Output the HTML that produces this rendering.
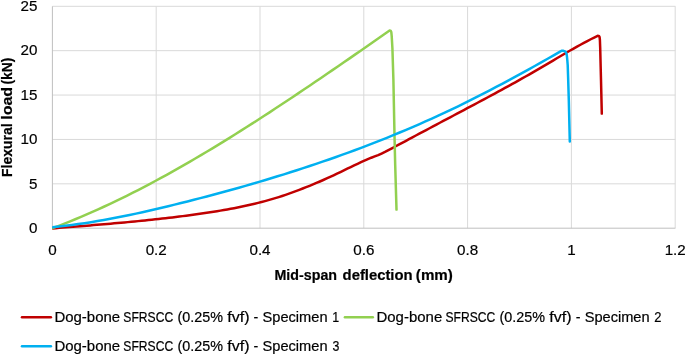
<!DOCTYPE html>
<html><head><meta charset="utf-8"><style>
html,body{margin:0;padding:0;background:#fff;}
body{width:685px;height:354px;overflow:hidden;}
svg{display:block;}
text{font-family:"Liberation Sans",sans-serif;fill:#000;stroke:#000;stroke-width:0.2px;}
.tx{filter:grayscale(1);}
</style></head><body>
<svg width="685" height="354" viewBox="0 0 685 354">
<rect width="685" height="354" fill="#fff"/>
<g stroke="#d9d9d9" stroke-width="1" fill="none">
<line x1="52.4" x2="675.4" y1="183.82" y2="183.82"/><line x1="52.4" x2="675.4" y1="139.44" y2="139.44"/><line x1="52.4" x2="675.4" y1="95.06" y2="95.06"/><line x1="52.4" x2="675.4" y1="50.68" y2="50.68"/><line x1="52.4" x2="675.4" y1="6.30" y2="6.30"/><line x1="156.20" x2="156.20" y1="6.30" y2="228.2"/><line x1="260.00" x2="260.00" y1="6.30" y2="228.2"/><line x1="363.80" x2="363.80" y1="6.30" y2="228.2"/><line x1="467.60" x2="467.60" y1="6.30" y2="228.2"/><line x1="571.40" x2="571.40" y1="6.30" y2="228.2"/><line x1="675.20" x2="675.20" y1="6.30" y2="228.2"/>
</g>
<g stroke="#bfbfbf" stroke-width="1" fill="none">
<line x1="52.4" x2="52.4" y1="6.30" y2="228.2"/>
<line x1="52.4" x2="675.4" y1="228.2" y2="228.2"/>
</g>
<defs><clipPath id="pc"><rect x="52.2" y="0" width="640" height="354"/></clipPath></defs>
<g fill="none" stroke-width="2.5" stroke-linejoin="round" stroke-linecap="round" clip-path="url(#pc)">
<path d="M52.40,228.40 L55.83,228.13 L59.26,227.86 L62.69,227.59 L66.12,227.32 L69.54,227.05 L72.97,226.78 L76.40,226.51 L79.83,226.24 L83.26,225.96 L86.69,225.68 L90.12,225.40 L93.55,225.12 L96.98,224.84 L100.41,224.55 L103.83,224.26 L107.26,223.97 L110.69,223.67 L114.12,223.37 L117.55,223.06 L120.98,222.75 L124.41,222.44 L127.84,222.12 L131.27,221.79 L134.69,221.46 L138.12,221.12 L141.55,220.78 L144.98,220.43 L148.41,220.08 L151.84,219.72 L155.27,219.35 L158.70,218.97 L162.13,218.59 L165.55,218.20 L168.98,217.80 L172.41,217.39 L175.84,216.97 L179.27,216.55 L182.70,216.12 L186.13,215.67 L189.56,215.22 L192.99,214.76 L196.42,214.29 L199.84,213.80 L203.27,213.31 L206.70,212.80 L210.13,212.29 L213.56,211.75 L216.99,211.20 L220.42,210.64 L223.85,210.05 L227.28,209.45 L230.70,208.82 L234.13,208.18 L237.56,207.50 L240.99,206.81 L244.42,206.08 L247.85,205.33 L251.28,204.55 L254.71,203.74 L258.14,202.89 L261.56,202.02 L264.99,201.10 L268.42,200.16 L271.85,199.17 L275.28,198.15 L278.71,197.08 L282.14,195.98 L285.57,194.83 L289.00,193.65 L292.43,192.42 L295.85,191.16 L299.28,189.87 L302.71,188.54 L306.14,187.19 L309.57,185.80 L313.00,184.38 L316.43,182.94 L319.86,181.48 L323.29,179.99 L326.71,178.48 L330.14,176.95 L333.57,175.34 L337.00,173.70 L340.43,172.06 L343.86,170.40 L347.29,168.73 L350.72,167.05 L354.15,165.36 L357.57,163.78 L361.00,162.22 L364.43,160.67 L367.86,159.19 L371.29,157.71 L374.72,156.41 L378.15,155.10 L381.58,153.53 L385.01,151.87 L388.44,150.10 L391.86,148.30 L395.29,146.48 L398.72,144.64 L402.15,142.83 L405.58,141.02 L409.01,139.19 L412.44,137.34 L415.87,135.50 L419.30,133.70 L422.72,131.89 L426.15,130.07 L429.58,128.25 L433.01,126.42 L436.44,124.59 L439.87,122.76 L443.30,120.94 L446.73,119.12 L450.16,117.30 L453.58,115.48 L457.01,113.67 L460.44,111.85 L463.87,110.03 L467.30,108.22 L470.73,106.40 L474.16,104.58 L477.59,102.75 L481.02,100.92 L484.45,99.09 L487.87,97.25 L491.30,95.41 L494.73,93.56 L498.16,91.70 L501.59,89.84 L505.02,87.97 L508.45,86.08 L511.88,84.19 L515.31,82.29 L518.73,80.38 L522.16,78.45 L525.59,76.52 L529.02,74.57 L532.45,72.61 L535.88,70.63 L539.31,68.64 L542.74,66.63 L546.17,64.61 L549.59,62.58 L553.02,60.55 L556.45,58.52 L559.88,56.50 L563.31,54.48 L566.74,52.49 L570.17,50.50 L573.60,48.55 L577.03,46.62 L580.46,44.72 L583.88,42.86 L587.31,41.03 L590.74,39.26 L594.17,37.53 L597.60,35.86 L598.90,35.90 L599.60,37.20 L599.90,40.00 L600.20,48.00 L601.00,80.00 L601.80,113.60" stroke="#c00000"/>
<path d="M52.40,228.20 L58.12,226.05 L63.83,223.84 L69.55,221.57 L75.26,219.24 L80.98,216.86 L86.69,214.41 L92.41,211.91 L98.12,209.36 L103.84,206.75 L109.55,204.09 L115.27,201.38 L120.98,198.61 L126.70,195.80 L132.41,192.94 L138.13,190.03 L143.84,187.07 L149.56,184.07 L155.27,181.02 L160.99,177.93 L166.71,174.80 L172.42,171.62 L178.14,168.41 L183.85,165.15 L189.57,161.86 L195.28,158.53 L201.00,155.16 L206.71,151.76 L212.43,148.33 L218.14,144.86 L223.86,141.36 L229.57,137.83 L235.29,134.27 L241.00,130.68 L246.72,127.06 L252.43,123.41 L258.15,119.74 L263.86,116.05 L269.58,112.33 L275.29,108.58 L281.01,104.82 L286.73,101.04 L292.44,97.23 L298.16,93.41 L303.87,89.57 L309.59,85.72 L315.30,81.84 L321.02,77.96 L326.73,74.06 L332.45,70.15 L338.16,66.23 L343.88,62.29 L349.59,58.35 L355.31,54.40 L361.02,50.45 L366.74,46.48 L372.45,42.52 L378.17,38.54 L383.88,34.57 L389.60,30.59 L390.60,30.70 L391.30,32.00 L391.70,36.00 L392.40,48.00 L393.40,80.00 L394.60,140.00 L395.20,165.00 L396.50,209.60" stroke="#92d050"/>
<path d="M52.40,227.20 L58.83,226.54 L65.26,225.80 L71.69,224.99 L78.13,224.11 L84.56,223.17 L90.99,222.16 L97.42,221.10 L103.85,219.97 L110.28,218.80 L116.72,217.57 L123.15,216.29 L129.58,214.97 L136.01,213.60 L142.44,212.19 L148.87,210.75 L155.31,209.27 L161.74,207.76 L168.17,206.22 L174.60,204.65 L181.03,203.06 L187.46,201.45 L193.90,199.81 L200.33,198.16 L206.76,196.48 L213.19,194.77 L219.62,193.05 L226.05,191.29 L232.49,189.52 L238.92,187.71 L245.35,185.89 L251.78,184.03 L258.21,182.15 L264.64,180.23 L271.08,178.29 L277.51,176.32 L283.94,174.33 L290.37,172.30 L296.80,170.24 L303.23,168.15 L309.67,166.02 L316.10,163.87 L322.53,161.68 L328.96,159.46 L335.39,157.20 L341.82,154.91 L348.26,152.58 L354.69,150.21 L361.12,147.81 L367.55,145.37 L373.98,142.88 L380.41,140.36 L386.85,137.79 L393.28,135.18 L399.71,132.53 L406.14,129.83 L412.57,127.09 L419.00,124.30 L425.44,121.46 L431.87,118.57 L438.30,115.63 L444.73,112.65 L451.16,109.61 L457.59,106.52 L464.03,103.38 L470.46,100.19 L476.89,96.95 L483.32,93.67 L489.75,90.34 L496.18,86.97 L502.62,83.56 L509.05,80.11 L515.48,76.63 L521.91,73.11 L528.34,69.56 L534.77,65.97 L541.21,62.36 L547.64,58.72 L554.07,55.06 L560.50,51.37 L562.00,50.70 L563.50,50.80 L564.80,51.30 L565.80,52.00 L566.50,53.60 L566.90,56.00 L567.30,60.00 L567.70,65.00 L568.20,80.00 L568.80,100.00 L569.80,141.50" stroke="#00b0f0"/>
</g>
<g stroke-width="2.5" stroke-linecap="round">
<line x1="22.0" x2="50.9" y1="317.2" y2="317.2" stroke="#c00000"/>
<line x1="344.9" x2="372.8" y1="317.2" y2="317.2" stroke="#92d050"/>
<line x1="22.0" x2="50.9" y1="346.2" y2="346.2" stroke="#00b0f0"/>
</g>
<g class="tx">
<g font-size="15.2">
<text x="37.4" y="233.20" text-anchor="end">0</text><text x="37.4" y="188.72" text-anchor="end">5</text><text x="37.4" y="144.24" text-anchor="end">10</text><text x="37.4" y="99.76" text-anchor="end">15</text><text x="37.4" y="55.28" text-anchor="end">20</text><text x="37.4" y="10.80" text-anchor="end">25</text>
<text x="52.40" y="255.3" text-anchor="middle">0</text><text x="156.20" y="255.3" text-anchor="middle">0.2</text><text x="260.00" y="255.3" text-anchor="middle">0.4</text><text x="363.80" y="255.3" text-anchor="middle">0.6</text><text x="467.60" y="255.3" text-anchor="middle">0.8</text><text x="571.40" y="255.3" text-anchor="middle">1</text><text x="675.20" y="255.3" text-anchor="middle">1.2</text>
</g>
<text transform="translate(274.47,279.50) scale(0.9776,1)" font-size="14.6" font-weight="bold">Mid-span</text><text transform="translate(342.61,279.50) scale(1.0155,1)" font-size="14.6" font-weight="bold">deflection</text><text transform="translate(415.84,279.50) scale(1.0369,1)" font-size="14.6" font-weight="bold">(mm)</text>
<text transform="translate(11.8,177.0) rotate(-90) translate(0.09,0.00) scale(0.9752,1)" font-size="14.3" font-weight="bold">Flexural</text><text transform="translate(11.8,177.0) rotate(-90) translate(57.18,0.00) scale(1.1218,1)" font-size="14.3" font-weight="bold">load</text><text transform="translate(11.8,177.0) rotate(-90) translate(92.40,0.00) scale(0.9741,1)" font-size="14.3" font-weight="bold">(kN)</text>
<text transform="translate(54.40,321.80) scale(1.0689,1)" font-size="14">Dog-bone</text><text transform="translate(123.35,321.80) scale(0.8660,1)" font-size="14">SFRSCC</text><text transform="translate(177.44,321.80) scale(1.0267,1)" font-size="14">(0.25%</text><text transform="translate(227.26,321.80) scale(1.1461,1)" font-size="14">fvf)</text><text transform="translate(253.56,321.80) scale(1.0204,1)" font-size="14">-</text><text transform="translate(262.54,321.80) scale(1.0451,1)" font-size="14">Specimen</text><text transform="translate(332.17,321.80) scale(0.8867,1)" font-size="14">1</text><text transform="translate(376.50,321.80) scale(1.0689,1)" font-size="14">Dog-bone</text><text transform="translate(445.45,321.80) scale(0.8660,1)" font-size="14">SFRSCC</text><text transform="translate(499.54,321.80) scale(1.0267,1)" font-size="14">(0.25%</text><text transform="translate(549.36,321.80) scale(1.1461,1)" font-size="14">fvf)</text><text transform="translate(575.66,321.80) scale(1.0204,1)" font-size="14">-</text><text transform="translate(584.64,321.80) scale(1.0451,1)" font-size="14">Specimen</text><text transform="translate(654.25,321.80) scale(0.9262,1)" font-size="14">2</text><text transform="translate(54.40,350.70) scale(1.0689,1)" font-size="14">Dog-bone</text><text transform="translate(123.35,350.70) scale(0.8660,1)" font-size="14">SFRSCC</text><text transform="translate(177.44,350.70) scale(1.0267,1)" font-size="14">(0.25%</text><text transform="translate(227.26,350.70) scale(1.1461,1)" font-size="14">fvf)</text><text transform="translate(253.56,350.70) scale(1.0204,1)" font-size="14">-</text><text transform="translate(262.54,350.70) scale(1.0451,1)" font-size="14">Specimen</text><text transform="translate(332.41,350.70) scale(0.8815,1)" font-size="14">3</text>
</g>
</svg>
</body></html>
